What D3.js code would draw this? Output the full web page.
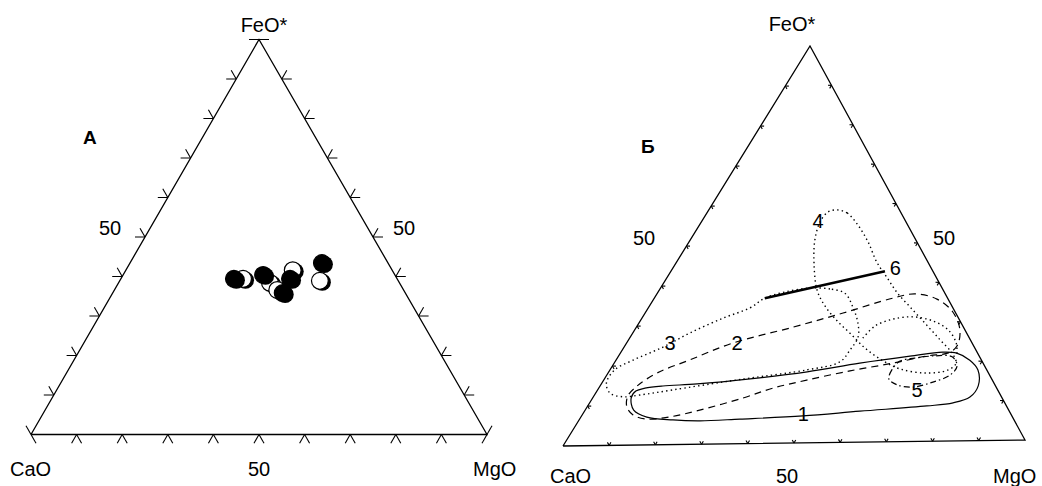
<!DOCTYPE html>
<html>
<head>
<meta charset="utf-8">
<script src="https://cdn.jsdelivr.net/npm/d3@7"></script>
<style>
  body { margin: 0; background: #fff; }
  svg { display: block; font-family: "Liberation Sans", Arial, sans-serif; }
</style>
</head>
<body>
<svg width="1042" height="486"></svg>
<script>
// составы: [FeO*, MgO] в %, CaO = 100 - FeO* - MgO
const vershiny = ["FeO*", "CaO", "MgO"];
const metkaOsi = "50";

// диаграмма А
const tochkiBelye = [[39.4, 26.8], [38.4, 33.2], [41.6, 36.6], [36.6, 35.7], [38.9, 43.9]];
const tochkiChernye = [[39.4, 24.8], [40.4, 30.7], [39.4, 37.1], [35.8, 37.3], [43.4, 42.1]];

// диаграмма Б, поля
const pole1 = [[11.9, 8.4], [13.6, 8.5], [14.3, 10.1], [14.8, 13.7], [15.2, 20.9], [16.3, 31.8],
  [17.9, 43.3], [19.9, 53.6], [21.5, 63.6], [22.4, 70.2], [22.1, 73.4], [20.3, 77.2], [17.8, 80.3],
  [13.8, 82.5], [11.0, 82.2], [9.6, 79.3], [8.9, 74.0], [7.8, 60.1], [6.8, 48.3], [6.2, 35.0],
  [5.9, 26.5], [6.2, 20.5], [7.0, 14.4], [8.8, 10.6]];
const pole2 = [[12.4, 7.4], [14.9, 8.1], [18.1, 10.7], [21.3, 16.1], [25.4, 23.2], [29.2, 34.2],
  [32.6, 43.2], [36.2, 52.1], [37.2, 56.3], [35.8, 61.8], [32.5, 67.0], [27.9, 71.0], [23.9, 72.5],
  [22.2, 71.5], [21.5, 67.3], [19.8, 60.8], [18.0, 52.5], [15.8, 44.3], [13.9, 38.0], [11.5, 32.8],
  [8.6, 25.0], [7.0, 19.4], [6.5, 14.7], [7.6, 11.1], [9.6, 8.7]];
const pole3 = [[37.6, 40.9], [38.7, 37.1], [39.0, 32.6], [38.1, 27.7], [36.6, 24.1], [34.2, 22.2],
  [31.7, 17.7], [28.1, 12.5], [24.6, 8.5], [21.4, 3.7], [19.0, 1.0], [15.7, 1.0], [13.2, 3.1],
  [12.2, 6.5], [12.6, 9.9], [13.8, 16.5], [15.6, 26.3], [16.5, 31.6], [18.4, 43.0], [20.3, 49.1],
  [23.3, 49.7], [26.5, 49.7], [30.0, 47.8], [34.1, 44.5]];
const pole4 = [[58.6, 28.0], [57.8, 30.6], [54.7, 34.6], [50.4, 39.1], [45.3, 43.7], [41.3, 48.1],
  [37.5, 52.3], [33.9, 57.0], [29.8, 62.4], [25.5, 68.0], [22.2, 72.3], [19.6, 74.6], [17.9, 73.8],
  [17.2, 69.4], [18.3, 63.2], [20.4, 58.4], [23.5, 53.0], [27.5, 47.4], [30.9, 42.6], [34.7, 38.0],
  [38.5, 34.4], [45.5, 30.0], [51.1, 27.2], [55.6, 25.9], [58.1, 26.3]];
const pole4Dugaa = [[26.2, 50.9], [29.2, 51.9], [30.9, 54.9], [31.4, 59.0], [30.3, 63.9],
  [28.0, 68.4], [24.7, 71.9], [21.4, 73.8]];
const pole5 = [[20.3, 62.1], [18.1, 61.5], [15.8, 62.1], [14.3, 64.7], [13.7, 68.4], [14.9, 72.1],
  [16.6, 74.9], [18.9, 75.2], [21.2, 72.9], [21.5, 69.0], [21.0, 64.9]];
const liniya6 = [[36.6, 24.1], [43.0, 46.7]];
const nadpisiPolei = [
  { t: "1", c: [7.3, 48.1] }, { t: "2", c: [25.4, 24.1] }, { t: "3", c: [25.6, 9.5] },
  { t: "4", c: [55.9, 25.3] }, { t: "5", c: [13.0, 69.7] }, { t: "6", c: [43.8, 48.5] }
];

const svg = d3.select("svg");

// ---------- А ----------
const xA = d3.scaleLinear().domain([0, 100]).range([31, 487]);
const yA = d3.scaleLinear().domain([0, 100]).range([434.5, 39.5]);
const projA = (f, m) => [xA(m + f / 2), yA(f)];

// ---------- Б (скан немного перекошен, поэтому аффинно по трем вершинам) ----------
const vB = { C: [563, 446], M: [1025, 440], F: [810, 46] };
const sM = d3.scaleLinear().domain([0, 100]).range([0, 1]);
const projB = (f, m) => [
  vB.C[0] + sM(m) * (vB.M[0] - vB.C[0]) + sM(f) * (vB.F[0] - vB.C[0]),
  vB.C[1] + sM(m) * (vB.M[1] - vB.C[1]) + sM(f) * (vB.F[1] - vB.C[1])
];

function treugolnik(g, C, M, F) {
  g.append("path")
    .attr("d", d3.line()([C, M, F, C]))
    .attr("fill", "none").attr("stroke", "#000").attr("stroke-width", 1.3)
    .attr("stroke-linejoin", "miter");
}

// засечки на ребре P0->P1; third - противоположная вершина
function zasechki(g, P0, P1, third, dlina, naruzhu, sKontsami) {
  const dx = P1[0] - P0[0], dy = P1[1] - P0[1];
  const L = Math.hypot(dx, dy);
  const d = [dx / L, dy / L];
  let n = [-d[1], d[0]];
  const mid = [(P0[0] + P1[0]) / 2, (P0[1] + P1[1]) / 2];
  const k = (third[0] - mid[0]) * n[0] + (third[1] - mid[1]) * n[1];
  if ((k > 0) === naruzhu) n = [-n[0], -n[1]];
  const c30 = Math.cos(Math.PI / 6), s30 = 0.5;
  const kP1 = [n[0] * c30 + d[0] * s30, n[1] * c30 + d[1] * s30];
  const kP0 = [n[0] * c30 - d[0] * s30, n[1] * c30 - d[1] * s30];
  const lines = [];
  d3.range(0, 11).forEach(i => {
    const t = i / 10;
    if (!sKontsami && (i === 0 || i === 10)) return;
    const p = [P0[0] + dx * t, P0[1] + dy * t];
    if (i < 10) lines.push([p, [p[0] + kP1[0] * dlina, p[1] + kP1[1] * dlina]]);
    if (i > 0) lines.push([p, [p[0] + kP0[0] * dlina, p[1] + kP0[1] * dlina]]);
  });
  g.selectAll(null).data(lines).enter().append("line")
    .attr("x1", l => l[0][0]).attr("y1", l => l[0][1])
    .attr("x2", l => l[1][0]).attr("y2", l => l[1][1])
    .attr("stroke", "#000").attr("stroke-width", 1.1);
}

function tekst(g, x, y, s, size, anchor, bold) {
  g.append("text").attr("x", x).attr("y", y)
    .attr("font-size", size).attr("text-anchor", anchor || "middle")
    .attr("font-weight", bold ? "bold" : "normal")
    .text(s);
}

const gA = svg.append("g");
const A_C = projA(0, 0), A_M = projA(0, 100), A_F = projA(100, 0);
treugolnik(gA, A_C, A_M, A_F);
zasechki(gA, A_C, A_M, A_F, 10, true, true);
zasechki(gA, A_C, A_F, A_M, 10, true, true);
zasechki(gA, A_M, A_F, A_C, 10, true, true);

tekst(gA, 264, 32, vershiny[0], 20);
tekst(gA, 10, 476, vershiny[1], 20, "start");
tekst(gA, 473, 476, vershiny[2], 20, "start");
tekst(gA, A_C[0] + (A_M[0] - A_C[0]) / 2, 476, metkaOsi, 20);
tekst(gA, 110, 235, metkaOsi, 20);
tekst(gA, 404, 235, metkaOsi, 20);
tekst(gA, 83, 144, "А", 19, "start", true);

function kruzhki(data, fill) {
  const g = gA.append("g");
  const sel = g.selectAll("g").data(data).enter().append("g")
    .attr("transform", d => { const p = projA(d[0], d[1]); return `translate(${p[0]},${p[1]})`; });
  sel.append("circle").attr("cx", 2.4).attr("cy", 1.3).attr("r", 8.6).attr("fill", "#000");
  sel.append("circle").attr("r", 8.4).attr("fill", fill).attr("stroke", "#000").attr("stroke-width", 1.2);
}
kruzhki(tochkiBelye, "#fff");
kruzhki(tochkiChernye, "#000");

// ---------- Б ----------
const gB = svg.append("g");
treugolnik(gB, vB.C, vB.M, vB.F);
zasechki(gB, vB.C, vB.M, vB.F, 3.5, false, false);
zasechki(gB, vB.C, vB.F, vB.M, 3.5, false, false);
zasechki(gB, vB.M, vB.F, vB.C, 3.5, false, false);

tekst(gB, 792, 31, vershiny[0], 20);
tekst(gB, 550, 483, vershiny[1], 20, "start");
tekst(gB, 993, 483, vershiny[2], 20, "start");
tekst(gB, 787, 483, metkaOsi, 20);
tekst(gB, 644, 245, metkaOsi, 20);
tekst(gB, 944, 245, metkaOsi, 20);
tekst(gB, 641, 153, "Б", 19, "start", true);

const zamknutaya = d3.line().curve(d3.curveCatmullRomClosed.alpha(0.5));
const otkrytaya = d3.line().curve(d3.curveCatmullRom.alpha(0.5));
const pr = arr => arr.map(d => projB(d[0], d[1]));

const stili = [
  { data: pole1, dash: null, w: 1.2, closed: true },
  { data: pole2, dash: "7,5", w: 1.2, closed: true },
  { data: pole3, dash: "1.4,3.2", w: 1.4, closed: true },
  { data: pole4, dash: "1.4,3.2", w: 1.4, closed: true },
  { data: pole4Dugaa, dash: "1.4,3.2", w: 1.4, closed: false },
  { data: pole5, dash: "6,3,1.5,3", w: 1.2, closed: true }
];
stili.forEach(s => {
  gB.append("path")
    .attr("d", (s.closed ? zamknutaya : otkrytaya)(pr(s.data)))
    .attr("fill", "none").attr("stroke", "#000")
    .attr("stroke-width", s.w)
    .attr("stroke-dasharray", s.dash);
});

gB.append("path")
  .attr("d", d3.line()(pr(liniya6)))
  .attr("stroke", "#000").attr("stroke-width", 2.6);

gB.selectAll(".nadpis").data(nadpisiPolei).enter().append("text")
  .attr("class", "nadpis")
  .attr("x", d => projB(d.c[0], d.c[1])[0])
  .attr("y", d => projB(d.c[0], d.c[1])[1] + 7)
  .attr("text-anchor", "middle")
  .attr("font-size", 20)
  .text(d => d.t);
</script>
</body>
</html>
